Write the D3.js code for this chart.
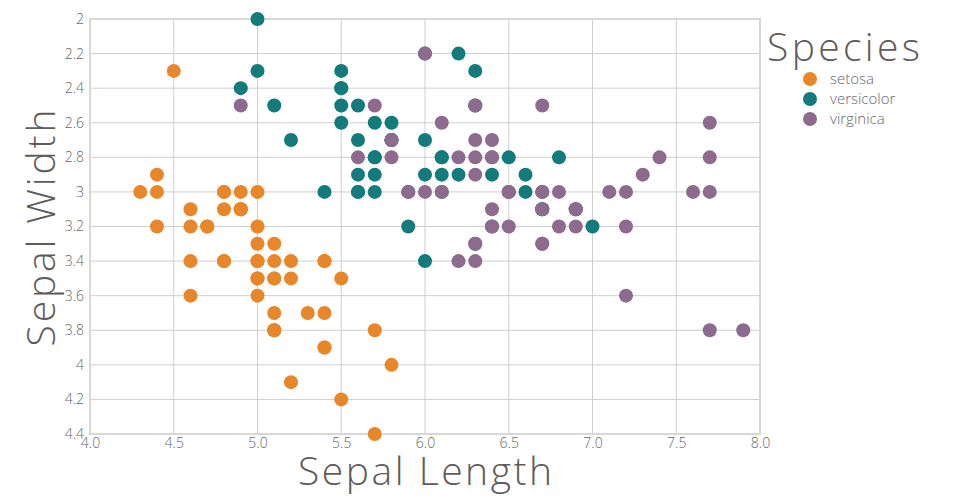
<!DOCTYPE html>
<html><head><meta charset="utf-8">
<script src="https://cdn.jsdelivr.net/npm/d3@7"></script>
<style>body{margin:0;background:#fff}svg{display:block}text{font-family:"Open Sans",sans-serif}</style>
</head><body>
<svg id="c" width="960" height="500"></svg>
<script>
const species = ["setosa","versicolor","virginica"];
const colors = ["#e8862a","#137b7b","#8d6a8e"];
const setosa = [[5.1,3.5],[4.9,3.0],[4.7,3.2],[4.6,3.1],[5.0,3.6],[5.4,3.9],[4.6,3.4],[5.0,3.4],[4.4,2.9],[4.9,3.1],[5.4,3.7],[4.8,3.4],[4.8,3.0],[4.3,3.0],[5.8,4.0],[5.7,4.4],[5.4,3.9],[5.1,3.5],[5.7,3.8],[5.1,3.8],[5.4,3.4],[5.1,3.7],[4.6,3.6],[5.1,3.3],[4.8,3.4],[5.0,3.0],[5.0,3.4],[5.2,3.5],[5.2,3.4],[4.7,3.2],[4.8,3.1],[5.4,3.4],[5.2,4.1],[5.5,4.2],[4.9,3.1],[5.0,3.2],[5.5,3.5],[4.9,3.1],[4.4,3.0],[5.1,3.4],[5.0,3.5],[4.5,2.3],[4.4,3.2],[5.0,3.5],[5.1,3.8],[4.8,3.0],[5.1,3.8],[4.6,3.2],[5.3,3.7],[5.0,3.3]];
const versicolor = [[7.0,3.2],[6.4,3.2],[6.9,3.1],[5.5,2.3],[6.5,2.8],[5.7,2.8],[6.3,3.3],[4.9,2.4],[6.6,2.9],[5.2,2.7],[5.0,2.0],[5.9,3.0],[6.0,2.2],[6.1,2.9],[5.6,2.9],[6.7,3.1],[5.6,3.0],[5.8,2.7],[6.2,2.2],[5.6,2.5],[5.9,3.2],[6.1,2.8],[6.3,2.5],[6.1,2.8],[6.4,2.9],[6.6,3.0],[6.8,2.8],[6.7,3.0],[6.0,2.9],[5.7,2.6],[5.5,2.4],[5.5,2.4],[5.8,2.7],[6.0,2.7],[5.4,3.0],[6.0,3.4],[6.7,3.1],[6.3,2.3],[5.6,3.0],[5.5,2.5],[5.5,2.6],[6.1,3.0],[5.8,2.6],[5.0,2.3],[5.6,2.7],[5.7,3.0],[5.7,2.9],[6.2,2.9],[5.1,2.5],[5.7,2.8]];
const virginica = [[6.3,3.3],[5.8,2.7],[7.1,3.0],[6.3,2.9],[6.5,3.0],[7.6,3.0],[4.9,2.5],[7.3,2.9],[6.7,2.5],[7.2,3.6],[6.5,3.2],[6.4,2.7],[6.8,3.0],[5.7,2.5],[5.8,2.8],[6.4,3.2],[6.5,3.0],[7.7,3.8],[7.7,2.6],[6.0,2.2],[6.9,3.2],[5.6,2.8],[7.7,2.8],[6.3,2.7],[6.7,3.3],[7.2,3.2],[6.2,2.8],[6.1,3.0],[6.4,2.8],[7.2,3.0],[7.4,2.8],[7.9,3.8],[6.4,2.8],[6.3,2.8],[6.1,2.6],[7.7,3.0],[6.3,3.4],[6.4,3.1],[6.0,3.0],[6.9,3.1],[6.7,3.1],[6.9,3.1],[5.8,2.7],[6.8,3.2],[6.7,3.3],[6.7,3.0],[6.3,2.5],[6.5,3.0],[6.2,3.4],[5.9,3.0]];
const xTicks = [4.0,4.5,5.0,5.5,6.0,6.5,7.0,7.5,8.0];
const yTicks = [2,2.2,2.4,2.6,2.8,3,3.2,3.4,3.6,3.8,4,4.2,4.4];

const svg = d3.select("#c");
const L=90,R=760,T=19,B=434;
const x = d3.scaleLinear().domain([4,8]).range([L,R]);
const y = d3.scaleLinear().domain([2,4.4]).range([T,B]);
const color = d3.scaleOrdinal().domain(species).range(colors);

// grid
const g = svg.append("g");
g.selectAll(".gx").data(xTicks).join("line").attr("x1",d=>x(d)).attr("x2",d=>x(d)).attr("y1",T).attr("y2",B).attr("stroke","#cfcfcf").attr("stroke-width",1);
g.selectAll(".gy").data(yTicks).join("line").attr("y1",d=>y(d)).attr("y2",d=>y(d)).attr("x1",L).attr("x2",R).attr("stroke","#cfcfcf").attr("stroke-width",1);
svg.append("rect").attr("x",L).attr("y",T).attr("width",R-L).attr("height",B-T).attr("fill","none").attr("stroke","#d8d8d4").attr("stroke-width",2);

// axes
const xa = svg.append("g").attr("transform",`translate(0,${B})`)
  .call(d3.axisBottom(x).tickValues(xTicks).tickFormat(d3.format(".1f")).tickSize(0).tickPadding(4));
const ya = svg.append("g").attr("transform",`translate(${L},0)`)
  .call(d3.axisLeft(y).tickValues(yTicks).tickFormat(d=>String(+d.toFixed(1))).tickSize(0).tickPadding(6));
[xa,ya].forEach(a=>{a.select(".domain").remove();a.selectAll("text").attr("fill","#666").style("font-size","14px").style("font-family","'Open Sans', sans-serif").style("font-weight",300);});

// points
const all = [setosa,versicolor,virginica];
all.forEach((arr,i)=>{
  svg.append("g").selectAll("circle").data(arr).join("circle")
    .attr("cx",d=>x(d[0])).attr("cy",d=>y(d[1])).attr("r",7).attr("fill",color(species[i]));
});

// titles
svg.append("text").attr("x",425).attr("y",485).attr("text-anchor","middle").attr("fill","#5f5b58").style("font-size","39px").style("font-weight",300)
  .attr("textLength",254).attr("lengthAdjust","spacing").text("Sepal Length");
svg.append("text").attr("transform","translate(55,228) rotate(-90)").attr("text-anchor","middle").attr("fill","#5f5b58").style("font-size","39px").style("font-weight",300)
  .attr("textLength",237).attr("lengthAdjust","spacing").text("Sepal Width");

// legend
svg.append("text").attr("x",767).attr("y",61).attr("fill","#5f5b58").style("font-size","39px").style("font-weight",300)
  .attr("textLength",153).attr("lengthAdjust","spacing").text("Species");
const lg = svg.append("g").selectAll("g").data(species).join("g").attr("transform",(d,i)=>`translate(810,${79+i*20})`);
lg.append("circle").attr("r",7).attr("fill",d=>color(d));
lg.append("text").attr("x",20).attr("dy","0.35em").attr("fill","#666").style("font-size","15px").style("font-weight",300).text(d=>d);
</script>
</body></html>
